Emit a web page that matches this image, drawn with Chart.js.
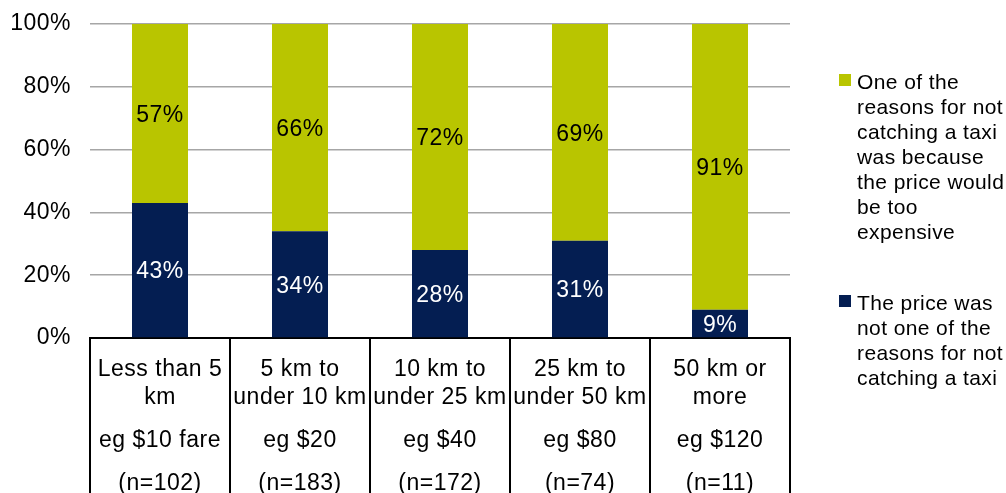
<!DOCTYPE html>
<html>
<head>
<meta charset="utf-8">
<script src="https://cdn.jsdelivr.net/npm/chart.js@4/dist/chart.umd.min.js"></script>
<style>
    html, body { margin: 0; padding: 0; background: #ffffff; }
    #wrap { width: 1006px; height: 493px; position: relative; }
</style>
</head>
<body>
<div id="wrap"><canvas id="fareChart"></canvas></div>
<script>
// Distance bands, example fares and sample sizes shown in the table under the bars
const distanceLabels = [
    ['Less than 5', 'km'],
    ['5 km to', 'under 10 km'],
    ['10 km to', 'under 25 km'],
    ['25 km to', 'under 50 km'],
    ['50 km or', 'more']
];
const fareLabels = ['eg $10 fare', 'eg $20', 'eg $40', 'eg $80', 'eg $120'];
const sampleLabels = ['(n=102)', '(n=183)', '(n=172)', '(n=74)', '(n=11)'];

// Series values (%)
const notReasonValues = [43, 34, 28, 31, 9];
const tooExpensiveValues = [57, 66, 72, 69, 91];

const tooExpensiveName = ['One of the', 'reasons for not', 'catching a taxi', 'was because',
    'the price would', 'be too', 'expensive'];
const notReasonName = ['The price was', 'not one of the', 'reasons for not', 'catching a taxi'];

const NAVY = '#041e52';
const OLIVE = '#b9c500';
const FONT = '"Liberation Sans", Arial, sans-serif';

// canvas resets its state on resize, so spacing is applied again before layout and draw
const letterSpacing = {
    id: 'letterSpacing',
    beforeUpdate(chart) { chart.ctx.letterSpacing = '0.5px'; },
    beforeDraw(chart) { chart.ctx.letterSpacing = '0.5px'; }
};

// Percent values written in the middle of each bar segment
const segmentLabels = {
    id: 'segmentLabels',
    afterDatasetsDraw(chart) {
        const ctx = chart.ctx;
        ctx.save();
        ctx.font = '23px ' + FONT;
        ctx.textAlign = 'center';
        ctx.textBaseline = 'middle';
        chart.data.datasets.forEach((ds, i) => {
            const meta = chart.getDatasetMeta(i);
            ctx.fillStyle = ds.labelColor;
            meta.data.forEach((bar, j) => {
                const mid = (bar.y + bar.base) / 2;
                ctx.fillText(ds.data[j] + '%', bar.x, mid + 2);
            });
        });
        ctx.restore();
    }
};

// Category table under the x axis
const categoryTable = {
    id: 'categoryTable',
    afterDraw(chart) {
        const ctx = chart.ctx;
        const x = chart.scales.x;
        const top = chart.chartArea.bottom;
        const bottom = chart.height;
        ctx.save();
        ctx.strokeStyle = '#000000';
        ctx.lineWidth = 2;
        for (let i = 0; i <= distanceLabels.length; i++) {
            const px = Math.round(x.getPixelForValue(i - 0.5));
            ctx.beginPath();
            ctx.moveTo(px, top);
            ctx.lineTo(px, bottom);
            ctx.stroke();
        }
        ctx.font = '23px ' + FONT;
        ctx.fillStyle = '#000000';
        ctx.textAlign = 'center';
        ctx.textBaseline = 'middle';
        distanceLabels.forEach((lines, i) => {
            const cx = x.getPixelForValue(i);
            ctx.fillText(lines[0], cx, top + 32);
            ctx.fillText(lines[1], cx, top + 60);
            ctx.fillText(fareLabels[i], cx, top + 103);
            ctx.fillText(sampleLabels[i], cx, top + 146);
        });
        ctx.restore();
    }
};

// Legend on the right with wrapped text
const sideLegend = {
    id: 'sideLegend',
    afterDraw(chart) {
        const ctx = chart.ctx;
        const items = [
            { color: OLIVE, lines: tooExpensiveName, y: 83 },
            { color: NAVY, lines: notReasonName, y: 304 }
        ];
        ctx.save();
        ctx.letterSpacing = '0.4px';
        ctx.font = '21px ' + FONT;
        ctx.textAlign = 'left';
        ctx.textBaseline = 'middle';
        items.forEach(item => {
            ctx.fillStyle = item.color;
            ctx.fillRect(839, item.y - 9, 12, 12);
            ctx.fillStyle = '#000000';
            item.lines.forEach((line, k) => {
                ctx.fillText(line, 857, item.y + k * 25);
            });
        });
        ctx.restore();
    }
};

const ctx = document.getElementById('fareChart').getContext('2d');
new Chart(ctx, {
    type: 'bar',
    data: {
        labels: distanceLabels.map(l => l.join(' ')),
        datasets: [
            {
                label: notReasonName.join(' '),
                data: notReasonValues,
                backgroundColor: NAVY,
                labelColor: '#ffffff',
                barPercentage: 0.4,
                categoryPercentage: 1
            },
            {
                label: tooExpensiveName.join(' '),
                data: tooExpensiveValues,
                backgroundColor: OLIVE,
                labelColor: '#000000',
                barPercentage: 0.4,
                categoryPercentage: 1
            }
        ]
    },
    options: {
        responsive: true,
        maintainAspectRatio: false,
        animation: false,
        layout: { padding: { top: 24, right: 216, left: 0, bottom: 0 } },
        plugins: {
            legend: { display: false },
            tooltip: { enabled: false }
        },
        scales: {
            x: {
                stacked: true,
                grid: { display: false },
                ticks: { display: false },
                border: { display: true, color: '#000000', width: 2 },
                afterFit(scale) { scale.height = 155; }
            },
            y: {
                stacked: true,
                min: 0,
                max: 100,
                grid: { color: '#a6a6a6', lineWidth: 1.5, drawTicks: false },
                border: { display: false },
                ticks: {
                    stepSize: 20,
                    padding: 19,
                    color: '#000000',
                    font: { family: FONT, size: 23 },
                    callback: v => v + '%'
                },
                afterFit(scale) {
                    scale.width = 90;
                    scale.paddingTop = 0;
                    scale.paddingBottom = 0;
                }
            }
        }
    },
    plugins: [letterSpacing, segmentLabels, categoryTable, sideLegend]
});
</script>
</body>
</html>
